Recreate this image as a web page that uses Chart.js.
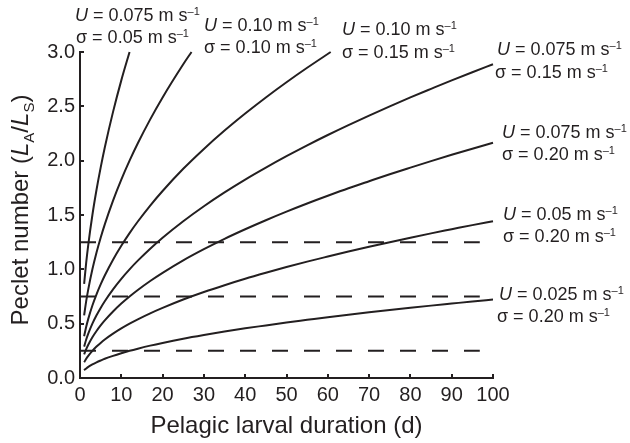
<!DOCTYPE html>
<html>
<head>
<meta charset="utf-8">
<script src="https://cdn.jsdelivr.net/npm/chart.js@4.4.1/dist/chart.umd.min.js"></script>
<style>
  html, body { margin: 0; padding: 0; background: #fff; }
  canvas { display: block; }
</style>
</head>
<body>
<canvas id="chart" width="630" height="443"></canvas>
<script>
// ── Data ───────────────────────────────────────────────
// pelagic larval duration (days) sampled along each curve
const daysA = [1, 1.5, 2, 3, 4, 5, 6, 8, 10, 12];
const daysB = [1, 1.5, 2, 3, 4, 5, 6, 8, 10, 12, 14, 17, 20, 25, 27];
const daysC = [1, 1.5, 2, 3, 4, 5, 6, 8, 10, 12, 14, 17, 20, 25, 30, 35, 40, 45, 50, 55, 60.7];
const daysFull = [1, 1.5, 2, 3, 4, 5, 6, 8, 10, 12, 14, 17, 20, 25, 30, 35, 40, 45, 50, 55, 60, 65, 70, 75, 80, 85, 90, 95, 100];

// Peclet number for each (U, sigma) combination
const peU075s05 = [0.866, 1.061, 1.225, 1.500, 1.732, 1.936, 2.121, 2.449, 2.739, 3.000];
const peU10s10  = [0.577, 0.707, 0.816, 1.000, 1.155, 1.291, 1.414, 1.633, 1.826, 2.000, 2.160, 2.380, 2.582, 2.887, 3.000];
const peU10s15  = [0.385, 0.471, 0.544, 0.667, 0.770, 0.861, 0.943, 1.089, 1.217, 1.333, 1.440, 1.587, 1.721, 1.925, 2.108, 2.277, 2.434, 2.582, 2.722, 2.855, 3.000];
const peU075s15 = [0.289, 0.354, 0.408, 0.500, 0.577, 0.645, 0.707, 0.816, 0.913, 1.000, 1.080, 1.190, 1.291, 1.443, 1.581, 1.708, 1.826, 1.936, 2.041, 2.141, 2.236, 2.327, 2.415, 2.500, 2.582, 2.661, 2.739, 2.814, 2.887];
const peU075s20 = [0.217, 0.265, 0.306, 0.375, 0.433, 0.484, 0.530, 0.612, 0.685, 0.750, 0.810, 0.893, 0.968, 1.083, 1.186, 1.281, 1.369, 1.452, 1.531, 1.606, 1.677, 1.746, 1.811, 1.875, 1.936, 1.996, 2.054, 2.110, 2.165];
const peU05s20  = [0.144, 0.177, 0.204, 0.250, 0.289, 0.323, 0.354, 0.408, 0.456, 0.500, 0.540, 0.595, 0.645, 0.722, 0.791, 0.854, 0.913, 0.968, 1.021, 1.071, 1.118, 1.164, 1.208, 1.250, 1.291, 1.331, 1.369, 1.407, 1.443];
const peU025s20 = [0.072, 0.088, 0.102, 0.125, 0.144, 0.161, 0.177, 0.204, 0.228, 0.250, 0.270, 0.298, 0.323, 0.361, 0.395, 0.427, 0.457, 0.484, 0.511, 0.535, 0.559, 0.582, 0.604, 0.625, 0.646, 0.666, 0.685, 0.704, 0.722];

// curve labels
const speeds = ['0.075', '0.10', '0.10', '0.075', '0.075', '0.05', '0.025'];
const sigmas = ['0.05', '0.10', '0.15', '0.15', '0.20', '0.20', '0.20'];

// dashed reference levels and their extent along x
const refLevels = [0.25, 0.75, 1.25];
const refSpan = [0, 96.8];

// axis ticks
const xTicks = [0, 10, 20, 30, 40, 50, 60, 70, 80, 90, 100];
const yTicks = [0, 0.5, 1.0, 1.5, 2.0, 2.5, 3.0];

// ── Style ──────────────────────────────────────────────
const INK  = '#231f20';
const FONT = '"Liberation Sans", Arial, Helvetica, sans-serif';

// label placement: [left of U line, U baseline, left of sigma line, sigma baseline]
const labelPos = [
  [75, 21, 76, 43],
  [204, 31, 204, 53],
  [342, 35, 342, 58],
  [497, 55, 495, 78],
  [502, 138, 502, 160],
  [503, 220, 503, 242],
  [499, 300, 497, 322],
];

const pairs = (xs, ys) => xs.map((x, i) => ({ x, y: ys[i] }));

const curves = [
  pairs(daysA, peU075s05),
  pairs(daysB, peU10s10),
  pairs(daysC, peU10s15),
  pairs(daysFull, peU075s15),
  pairs(daysFull, peU075s20),
  pairs(daysFull, peU05s20),
  pairs(daysFull, peU025s20),
];

const datasets = [];
refLevels.forEach(lv => datasets.push({
  data: refSpan.map(x => ({ x, y: lv })),
  borderColor: INK, borderWidth: 2, borderDash: [16, 16],
  pointRadius: 0, fill: false, clip: false,
}));
curves.forEach(c => datasets.push({
  data: c,
  borderColor: INK, borderWidth: 2,
  pointRadius: 0, fill: false, clip: false,
  cubicInterpolationMode: 'monotone',
}));

// ── Rich text helper (italic / sub / sup runs) ─────────
function drawRich(ctx, parts, x, y, size, measureOnly) {
  let cx = x;
  parts.forEach(([t, s]) => {
    const small = s === 'sup' || s === 'sub';
    const fs = small ? Math.round(size * 0.62) : size;
    ctx.font = (s === 'i' ? 'italic ' : '') + fs + 'px ' + FONT;
    const dy = s === 'sup' ? -size * 0.36 : s === 'sub' ? size * 0.24 : 0;
    if (!measureOnly) ctx.fillText(t, cx, y + dy);
    cx += ctx.measureText(t).width;
  });
  return cx - x;
}

const decorPlugin = {
  id: 'decor',
  afterDraw(chart) {
    const { ctx, scales: { x, y }, chartArea } = chart;
    ctx.save();
    ctx.strokeStyle = INK;
    ctx.fillStyle = INK;
    ctx.lineWidth = 2;

    // inward tick marks
    yTicks.slice(1).forEach(v => {
      const py = Math.round(y.getPixelForValue(v));
      ctx.beginPath(); ctx.moveTo(chartArea.left, py); ctx.lineTo(chartArea.left + 4, py); ctx.stroke();
    });
    xTicks.slice(1).forEach(v => {
      const px = Math.round(x.getPixelForValue(v));
      ctx.beginPath(); ctx.moveTo(px, chartArea.bottom); ctx.lineTo(px, chartArea.bottom - 4); ctx.stroke();
    });

    ctx.textAlign = 'left';
    ctx.textBaseline = 'alphabetic';

    // curve labels
    speeds.forEach((u, i) => {
      const [ux, uy, sx, sy] = labelPos[i];
      drawRich(ctx, [['U', 'i'], [' = ' + u + ' m s', ''], ['\u20131', 'sup']], ux, uy, 18);
      drawRich(ctx, [['\u03c3 = ' + sigmas[i] + ' m s', ''], ['\u20131', 'sup']], sx, sy, 18);
    });

    // x axis title
    ctx.font = '24px ' + FONT;
    ctx.textAlign = 'center';
    ctx.fillText('Pelagic larval duration (d)', (chartArea.left + chartArea.right) / 2, 433);

    // y axis title with subscripts
    const yParts = [['Peclet number (', ''], ['L', 'i'], ['A', 'sub'], ['/', ''], ['L', 'i'], ['S', 'sub'], [')', '']];
    ctx.textAlign = 'left';
    ctx.translate(28, (chartArea.top + chartArea.bottom) / 2 - 5);
    ctx.rotate(-Math.PI / 2);
    const w = drawRich(ctx, yParts, 0, 0, 24, true);
    drawRich(ctx, yParts, -w / 2, 0, 24);
    ctx.restore();
  },
};

new Chart(document.getElementById('chart'), {
  type: 'line',
  data: { datasets },
  options: {
    responsive: false,
    animation: false,
    events: [],
    layout: { padding: { top: 52, right: 137, left: 0, bottom: 0 } },
    plugins: { legend: { display: false }, tooltip: { enabled: false } },
    scales: {
      x: {
        type: 'linear', min: 0, max: 100,
        afterFit: s => { s.height = 65; },
        afterBuildTicks: s => { s.ticks = xTicks.map(value => ({ value })); },
        grid: { display: false, drawTicks: false },
        border: { display: true, color: INK, width: 2 },
        ticks: { color: INK, font: { family: FONT, size: 20 }, padding: 5, maxRotation: 0 },
      },
      y: {
        type: 'linear', min: 0, max: 3,
        afterFit: s => { s.width = 80; },
        afterBuildTicks: s => { s.ticks = yTicks.map(value => ({ value })); },
        grid: { display: false, drawTicks: false },
        border: { display: true, color: INK, width: 2 },
        ticks: { color: INK, font: { family: FONT, size: 20 }, padding: 5, callback: v => v.toFixed(1) },
      },
    },
  },
  plugins: [decorPlugin],
});
</script>
</body>
</html>
